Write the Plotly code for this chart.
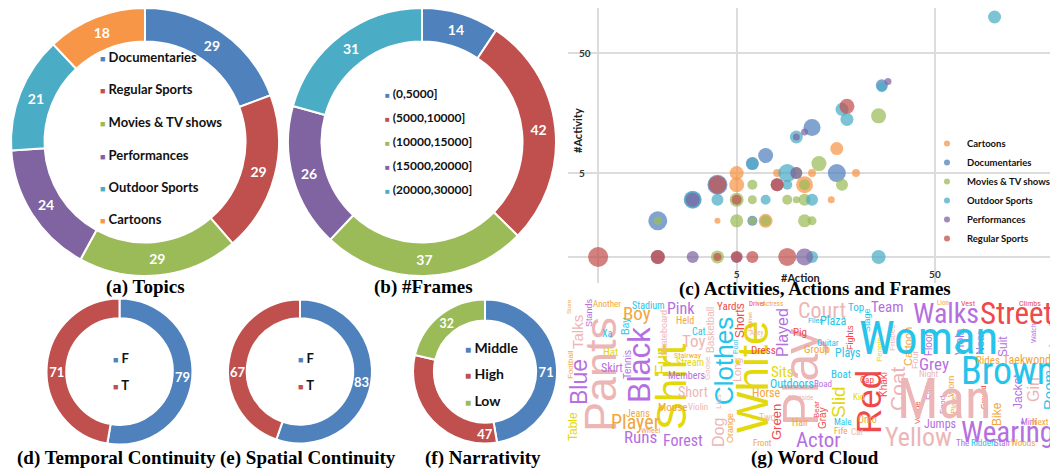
import math
import plotly.graph_objects as go

# page body has an 8px margin: the figure is drawn at (8, 8) inside the 1058x472 window
OFF = 8
W, H = 1058 - OFF, 472 - OFF

# ---------------- data ----------------
topic_labels = ["Documentaries", "Regular Sports", "Movies & TV shows", "Performances", "Outdoor Sports", "Cartoons"]
topic_values = [29, 29, 29, 24, 21, 18]

frame_labels = ["(0,5000]", "(5000,10000]", "(10000,15000]", "(15000,20000]", "(20000,30000]"]
frame_values = [14, 42, 37, 26, 31]

temporal_labels = ["F", "T"]
temporal_values = [79, 71]

spatial_labels = ["F", "T"]
spatial_values = [83, 67]

narr_labels = ["Middle", "High", "Low"]
narr_values = [71, 47, 32]

# scatter: #Action (x), #Activity (y), bubble size (frames, as diameter)
cartoons_action = [4, 7, 15, 5, 11, 5, 8, 12, 20, 16]
cartoons_activity = [2, 2, 3, 4, 4, 5, 5, 5, 5, 8]
cartoons_size = [6, 14, 7, 15, 17, 14, 8, 8, 8, 13]

documentaries_action = [2, 6, 3, 4, 6, 7, 12, 16, 27]
documentaries_activity = [2, 2, 3, 4, 6, 7, 12, 5, 27]
documentaries_size = [19, 10, 17, 20, 13, 15, 17, 18, 12]

movies_action = [2, 4, 5, 6, 7, 11, 12, 5, 6, 9, 10, 11, 6, 11, 17, 10, 13, 26]
movies_activity = [2, 1, 2, 2, 2, 2, 2, 3, 3, 3, 3, 3, 4, 4, 4, 5, 6, 15]
movies_size = [8, 13, 13, 8, 11, 13, 9, 14, 9, 10, 7, 12, 10, 11, 12, 12, 15, 15]

outdoor_action = [12, 26, 3, 4, 7, 12, 9, 9, 6, 10, 17, 18, 27, 100]
outdoor_activity = [1, 1, 3, 3, 3, 3, 4, 5, 6, 10, 17, 14, 26, 100]
outdoor_size = [12, 14, 18, 12, 10, 12, 10, 18, 12, 13, 13, 13, 10, 13]

performances_action = [2, 3, 5, 11, 3, 8, 10, 10, 11, 29]
performances_activity = [1, 1, 1, 1, 3, 4, 5, 10, 11, 29]
performances_size = [14, 12, 12, 17, 14, 13, 12, 7, 7, 7]

regular_action = [1, 2, 4, 5, 6, 9, 4, 5, 8, 18]
regular_activity = [1, 1, 1, 1, 1, 1, 4, 3, 4, 18]
regular_size = [20, 14, 8, 11, 12, 18, 18, 10, 13, 15]

scatter_tick_vals = [1, 5, 50]
scatter_tick_text = ["", "5", "50"]

# word cloud: words and their weights (font size)
cloud_words_v = ["Pants", "Blue", "Table", "Talks", "Football", "Stands", "Store", "Bay", "Black", "Tennis",
                 "Shirt", "Fur", "Skateboard", "Basketball", "Goose", "Clothes", "Dog", "Shorts", "Pool", "Long",
                 "Lies", "Orange", "White", "Played", "Green", "Play", "Slid", "Red", "Gray", "Bear",
                 "Fights", "Stage", "Khaki", "Coat", "Frisbee", "People", "Cartoon", "Four", "Floor", "Falls",
                 "Food", "Worn", "Plate", "Venue", "Viola", "Near", "Ground", "Suit", "Watch", "Skateboard",
                 "Jacket", "Bike", "Girl", "Room", "Helmet"]
cloud_weights_v = [45, 23, 12, 15, 8, 9, 6, 10, 31, 10,
                   42, 17, 9, 10, 8, 26, 16, 12, 7, 11,
                   8, 9, 44, 16, 13, 50, 19, 35, 10, 8,
                   9, 9, 10, 21, 8, 8, 11, 9, 10, 9,
                   8, 9, 8, 8, 12, 11, 7, 12, 7, 9,
                   12, 12, 16, 15, 6]
cloud_words_h = ["Another", "Boy", "Stadium", "Xa", "Hat", "Skirt", "Pink", "Held", "Toy", "Cat",
                 "Stairway", "Stream", "Members", "Short", "Mouse", "Violin", "Forest", "Player", "Jeans", "Runs",
                 "Wheel", "Dress", "Yard", "Sits", "Outdoors", "Horse", "Two", "Hair", "Front", "Pig",
                 "Driver", "Actress", "Alley", "Riverside", "Court", "Top", "Flies", "Plaza", "Guitar", "Group",
                 "Plays", "Boat", "Cap", "Road", "Kid", "Onto", "Male", "Fife", "Car", "Actor",
                 "Team", "Woman", "Walks", "Street", "Lion", "Vest", "Climbs", "Grey", "Brown", "Rides",
                 "Taekwondo", "Man", "Yellow", "Jumps", "Wearing", "Night", "Mini", "Next", "The", "Ridden",
                 "Stair", "Woods"]
cloud_weights_h = [9, 19, 10, 10, 11, 12, 16, 10, 17, 10,
                   8, 10, 10, 14, 11, 9, 16, 20, 10, 17,
                   8, 11, 11, 15, 12, 12, 10, 10, 9, 11,
                   7, 7, 7, 7, 22, 11, 8, 12, 9, 11,
                   12, 11, 9, 9, 9, 10, 9, 9, 9, 21,
                   15, 47, 28, 31, 7, 8, 8, 17, 38, 11,
                   12, 55, 26, 12, 29, 9, 9, 9, 9, 9,
                   9, 9]

# ---------------- layout / style (positions in window px, colour keys) ----------------
cloud_place_v = [(600, 375, "P"), (579, 382, "U"), (573, 427, "Y"), (577, 332, "P"), (570, 365, "O"),
                 (589, 313, "U"), (569, 307, "O"), (625, 327, "C"), (639, 365, "U"), (627, 365, "U"),
                 (671, 387, "Y"), (661, 362, "Y"), (664, 333, "P"), (710, 330, "P"), (707, 368, "P"),
                 (724, 361, "C"), (718, 433, "P"), (740, 321, "R"), (735, 347, "C"), (737, 370, "P"),
                 (718, 402, "P"), (730, 428, "O"), (752, 377, "Y"), (782, 333, "U"), (776, 422, "R"),
                 (801, 378, "P"), (838, 402, "Y"), (868, 402, "R"), (822, 418, "R"), (816, 410, "R"),
                 (850, 338, "R"), (867, 320, "C"), (883, 385, "R"), (897, 389, "P"), (892, 338, "P"),
                 (879, 350, "Y"), (908, 347, "O"), (915, 360, "P"), (928, 345, "U"), (929, 390, "U"),
                 (942, 405, "U"), (951, 387, "O"), (953, 405, "O"), (917, 413, "R"), (960, 342, "U"),
                 (980, 343, "U"), (983, 398, "R"), (1003, 347, "U"), (1033, 333, "U"), (1053, 347, "U"),
                 (1018, 392, "U"), (997, 414, "O"), (1033, 390, "P"), (1048, 390, "C"), (750, 322, "O")]
cloud_place_h = [(607, 304, "O"), (637, 313, "O"), (648, 305, "C"), (607, 333, "C"), (610, 352, "Y"),
                 (612, 368, "U"), (681, 308, "U"), (685, 320, "O"), (694, 341, "P"), (698, 331, "C"),
                 (688, 355, "O"), (690, 362, "Y"), (687, 375, "U"), (693, 392, "P"), (672, 407, "O"),
                 (698, 407, "P"), (683, 440, "U"), (635, 422, "O"), (638, 413, "O"), (640, 437, "U"),
                 (650, 430, "O"), (763, 350, "R"), (726, 306, "R"), (782, 372, "Y"), (792, 384, "C"),
                 (766, 393, "O"), (767, 417, "P"), (800, 422, "O"), (762, 443, "O"), (800, 332, "R"),
                 (757, 304, "R"), (772, 304, "O"), (756, 333, "P"), (800, 398, "P"), (822, 310, "P"),
                 (856, 307, "C"), (815, 320, "C"), (833, 321, "C"), (828, 343, "C"), (817, 349, "O"),
                 (848, 353, "C"), (841, 374, "C"), (867, 380, "R"), (823, 384, "U"), (858, 397, "Y"),
                 (867, 419, "O"), (842, 422, "C"), (840, 431, "O"), (857, 432, "P"), (818, 440, "U"),
                 (887, 307, "U"), (928, 337, "C"), (946, 313, "U"), (1016, 313, "R"), (943, 303, "O"),
                 (968, 303, "R"), (1030, 303, "R"), (934, 364, "U"), (1008, 371, "C"), (988, 360, "O"),
                 (1030, 360, "O"), (944, 399, "P"), (918, 437, "P"), (940, 424, "U"), (1007, 432, "U"),
                 (928, 374, "P"), (1028, 422, "U"), (1040, 422, "O"), (962, 443, "U"), (983, 443, "C"),
                 (1002, 443, "U"), (1023, 443, "O")]
cloud_colors = {"P": "#EDB6B6", "U": "#B66FDF", "C": "#26C4EA", "Y": "#E2D80A", "O": "#F2A640", "R": "#EE4A4A"}

BLUE, RED, GREEN, PURPLE, TEAL, ORANGE = "#4F81BD", "#C0504D", "#9BBB59", "#8064A2", "#4BACC6", "#F79646"


def px(x):
    return (x - OFF) / W


def py(y):
    return 1 - (y - OFF) / H


def dom(cx, cy, r):
    return dict(x=[px(cx - r), px(cx + r)], y=[py(cy + r), py(cy - r)])


fig = go.Figure()
ann = []

LABEL_FONT = "Lato, Open Sans, sans-serif"


def add_donut(labels, values, colors, cx, cy, r, hole, fsize, big_slice_annot=False):
    texts = [str(v) for v in values]
    if big_slice_annot:
        # plotly moves the label of a >180deg slice to the bottom; place it at its mid-angle instead
        total = float(sum(values))
        for i, v in enumerate(values):
            if v / total > 0.5:
                mid = (sum(values[:i]) + v / 2.0) / total * 2 * math.pi
                rr = r * (1 + hole) / 2
                ann.append(dict(x=px(cx + rr * math.sin(mid)), y=py(cy - rr * math.cos(mid)),
                                xref="paper", yref="paper", showarrow=False, text=texts[i],
                                xanchor="center", yanchor="middle",
                                font=dict(color="white", size=fsize, family=LABEL_FONT, weight="bold")))
                texts[i] = ""
    fig.add_trace(go.Pie(
        labels=labels, values=values, hole=hole, sort=False, direction="clockwise", rotation=0,
        marker=dict(colors=colors, line=dict(color="white", width=2)),
        text=texts, textinfo="text", textposition="inside", insidetextorientation="horizontal",
        textfont=dict(color="white", size=fsize, family=LABEL_FONT, weight="bold"),
        domain=dom(cx, cy, r), showlegend=False, hoverinfo="label+value",
    ))


add_donut(topic_labels, topic_values, [BLUE, RED, GREEN, PURPLE, TEAL, ORANGE], 145, 142, 134, 0.75, 14)
add_donut(frame_labels, frame_values, [BLUE, RED, GREEN, PURPLE, TEAL], 422, 142, 134, 0.75, 14)
add_donut(temporal_labels, temporal_values, [BLUE, RED], 119.5, 371.5, 73, 0.73, 13, True)
add_donut(spatial_labels, spatial_values, [BLUE, RED], 300, 371.5, 72, 0.74, 13, True)
add_donut(narr_labels, narr_values, [BLUE, RED, GREEN], 485, 371.5, 72, 0.71, 13)

# scatter
series = [
    ("Cartoons", cartoons_action, cartoons_activity, cartoons_size, ORANGE),
    ("Documentaries", documentaries_action, documentaries_activity, documentaries_size, BLUE),
    ("Movies & TV shows", movies_action, movies_activity, movies_size, GREEN),
    ("Outdoor Sports", outdoor_action, outdoor_activity, outdoor_size, TEAL),
    ("Performances", performances_action, performances_activity, performances_size, PURPLE),
    ("Regular Sports", regular_action, regular_activity, regular_size, RED),
]
for name, xs, ys, ss, col in series:
    fig.add_trace(go.Scatter(
        x=xs, y=ys, mode="markers", name=name, showlegend=False,
        marker=dict(size=ss, sizemode="diameter", color=col, opacity=0.72, line=dict(width=0)),
        xaxis="x", yaxis="y",
    ))
for i, (name, xs, ys, ss, col) in enumerate(series):
    fig.add_trace(go.Scatter(
        x=[None], y=[None], mode="markers", name=name, legendgroup=f"g{i}",
        marker=dict(size=6, color=col, opacity=0.75), xaxis="x", yaxis="y",
    ))


# donut legends (squares + text)
def legend_block(labels, colors, x, ys, fsize):
    for lab, col, y in zip(labels, colors, ys):
        ann.append(dict(
            x=px(x), y=py(y), xref="paper", yref="paper", xanchor="left", yanchor="middle", showarrow=False,
            text=f'<span style="color:{col};font-size:{fsize - 4}px">■</span> {lab}',
            font=dict(family=LABEL_FONT, size=fsize, color="#111111", weight="bold"),
        ))


legend_block(topic_labels, [BLUE, RED, GREEN, PURPLE, TEAL, ORANGE], 98, [57, 89.5, 122, 154.5, 187, 219.5], 13)
legend_block(frame_labels, [BLUE, RED, GREEN, PURPLE, TEAL], 383, [93, 117, 141, 165, 189], 12)
legend_block(temporal_labels, [BLUE, RED], 111, [358, 385], 13)
legend_block(spatial_labels, [BLUE, RED], 296, [358, 385], 13)
legend_block(narr_labels, [BLUE, RED, GREEN], 463, [347, 373, 400], 14)

# panel titles
for txt, x, y in [("(a) Topics", 145, 287), ("(b) #Frames", 423, 287),
                  ("(c) Activities, Actions and Frames", 815, 289),
                  ("(d) Temporal Continuity", 116, 458), ("(e) Spatial Continuity", 308, 458),
                  ("(f) Narrativity", 483, 458), ("(g) Word Cloud", 815, 458)]:
    ann.append(dict(x=px(x), y=py(y), xref="paper", yref="paper", showarrow=False, text=txt,
                    xanchor="center", yanchor="middle",
                    font=dict(family="Liberation Serif, Times New Roman, serif", size=19, color="black",
                              weight="bold")))

# axis titles for scatter
ann.append(dict(x=px(800), y=py(277), xref="paper", yref="paper", showarrow=False, text="#Action",
                xanchor="center", yanchor="middle",
                font=dict(family=LABEL_FONT, size=11, color="#222222", weight="bold")))
ann.append(dict(x=px(577), y=py(131), xref="paper", yref="paper", showarrow=False, text="#Activity",
                xanchor="center", yanchor="middle", textangle=-90,
                font=dict(family=LABEL_FONT, size=11, color="#222222", weight="bold")))

# word cloud
for words, weights, places, vertical in [(cloud_words_v, cloud_weights_v, cloud_place_v, True),
                                         (cloud_words_h, cloud_weights_h, cloud_place_h, False)]:
    for wd, wt, (x, y, ck) in zip(words, weights, places):
        fam = "Liberation Sans, Arial, sans-serif" if vertical else \
            "Liberation Sans Narrow, Arial Narrow, Roboto Condensed, Liberation Sans, sans-serif"
        ann.append(dict(x=px(x), y=py(y), xref="paper", yref="paper", showarrow=False, text=wd,
                        xanchor="center", yanchor="middle", textangle=-90 if vertical else 0,
                        font=dict(family=fam, size=wt, color=cloud_colors[ck])))

fig.update_layout(
    width=W, height=H, margin=dict(l=0, r=0, t=0, b=0, autoexpand=False),
    paper_bgcolor="white", plot_bgcolor="white",
    xaxis=dict(type="log", domain=[px(568), px(1055)], range=[-0.152, 2.305],
               tickvals=scatter_tick_vals, ticktext=scatter_tick_text, ticklabelposition="inside",
               showgrid=True, gridcolor="#DCDCDC", gridwidth=1.5, zeroline=False, showline=False,
               ticks="", tickfont=dict(family=LABEL_FONT, size=10, color="#333333", weight="bold"),
               anchor="y"),
    yaxis=dict(type="log", domain=[py(283), py(8)], range=[-0.217, 2.075],
               tickvals=scatter_tick_vals, ticktext=scatter_tick_text, ticklabelposition="inside",
               ticklabelstandoff=8,
               showgrid=True, gridcolor="#DCDCDC", gridwidth=1.5, zeroline=False, showline=False,
               ticks="", tickfont=dict(family=LABEL_FONT, size=10, color="#333333", weight="bold"),
               anchor="x"),
    legend=dict(x=px(927), y=py(129), xanchor="left", yanchor="top", bgcolor="rgba(0,0,0,0)",
                font=dict(family=LABEL_FONT, size=9.5, color="#111111", weight="bold"),
                tracegroupgap=0),
    annotations=ann,
    showlegend=True,
)

fig.write_html("out.html")
